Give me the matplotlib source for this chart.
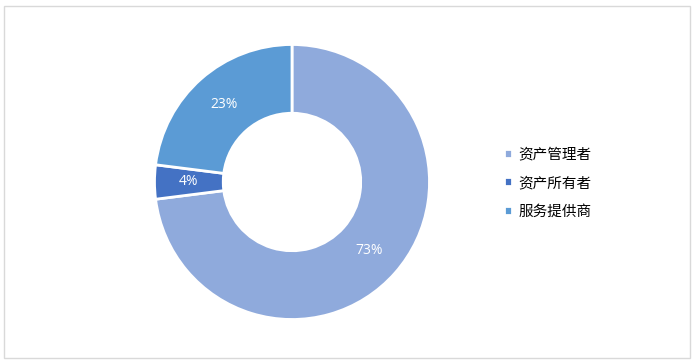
import matplotlib
matplotlib.use("Agg")
import matplotlib.pyplot as plt
from matplotlib.patches import Rectangle

plt.rcParams['font.family'] = ['Noto Sans CJK SC', 'DejaVu Sans']

# data
labels = ['资产管理者', '资产所有者', '服务提供商']
shares = [73, 4, 23]
colors = ['#8FAADC', '#4472C4', '#5B9BD5']

W, H = 694, 364
fig = plt.figure(figsize=(W / 100, H / 100), dpi=100)

# light grey frame round the chart
fig.patches.append(Rectangle((4 / W, 6 / H), 686 / W, 352 / H, transform=fig.transFigure,
                             fill=False, ec='#D9D9D9', lw=1.0))

cx, cy, r = 292, 182, 137.5
ax = fig.add_axes([(cx - r) / W, (H - cy - r) / H, 2 * r / W, 2 * r / H])
wedges, texts, autotexts = ax.pie(
    shares, colors=colors, startangle=90, counterclock=False,
    autopct='%d%%', pctdistance=0.75,
    wedgeprops=dict(width=0.5, edgecolor='white', linewidth=2),
    textprops=dict(color='white', fontsize=10, family=['Open Sans', 'DejaVu Sans']))
ax.set_xlim(-1, 1)
ax.set_ylim(-1, 1)
ax.set_aspect('equal')

fig.legend(wedges, labels, loc='center left', bbox_to_anchor=(491 / W, 1 - 183 / H),
           frameon=False, fontsize=10.5, handlelength=0.55, handleheight=0.55,
           handletextpad=0.45, labelspacing=1.0)

fig.savefig('out.png', dpi=100)
